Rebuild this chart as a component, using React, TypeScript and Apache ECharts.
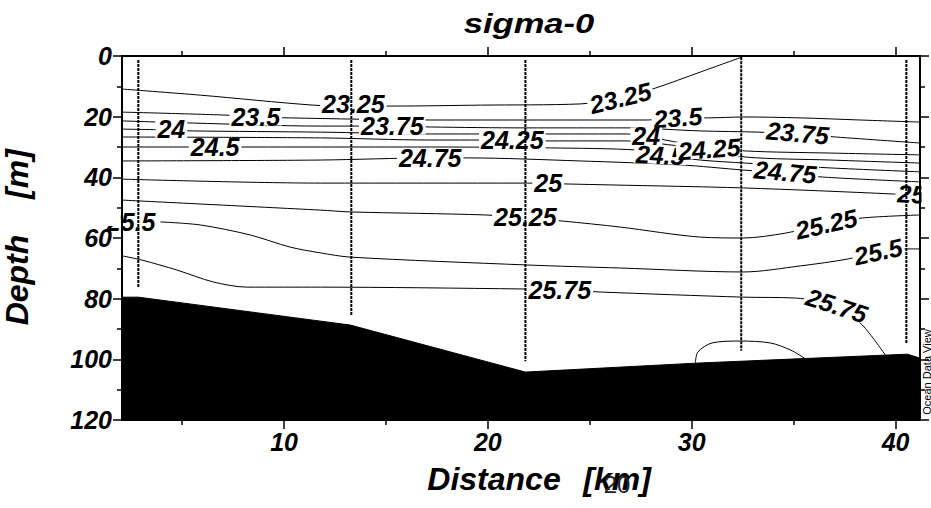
import React, { useEffect, useRef } from "react";
import * as echarts from "echarts";

const FONT = '"Liberation Sans", Arial, Helvetica, sans-serif';

const X_MIN = 2.05;
const X_MAX = 41.2;
const Y_MIN = 0;
const Y_MAX = 120;

const xMajorTicks = [10, 20, 30, 40];
const xMinorTicks = [5, 15, 25, 35];
const yMajorTicks = [0, 20, 40, 60, 80, 100, 120];
const yMinorTicks = [10, 30, 50, 70, 90, 110];

// contour lines: [distance km, depth m]
const c2325 = [[2.06, 10.9], [5.89, 12.9], [11.43, 16.2], [13.4, 16.5], [15.46, 16.5], [19.63, 16.2], [24.53, 15.8], [26.5, 13.9], [28.21, 10.6], [30.42, 5.3], [32.48, 0.3]];
const c2350 = [[2.06, 18.5], [7.2, 19.5], [8.6, 20.1], [10.2, 20.4], [17.17, 21.1], [27.82, 21.1], [29.35, 20.4], [30.77, 20.4], [32.53, 20.1], [35.33, 20.4], [38.27, 21.1], [41.22, 21.8]];
const c2375 = [[2.06, 21.4], [5.5, 22.1], [11.78, 23.1], [15.36, 23.1], [17.17, 23.4], [21.84, 23.7], [26.84, 23.7], [30.42, 24.7], [33.27, 25.1], [35.18, 25.7], [37.05, 26.7], [41.22, 28.7]];
const c2400 = [[2.06, 24.1], [4.47, 24.4], [5.5, 24.7], [11.78, 25.1], [17.17, 25.7], [21.2, 25.7], [26.84, 25.7], [27.77, 26.4], [28.7, 27.7], [30.42, 29.7], [32.63, 31.3], [36.8, 32.0], [41.22, 32.6]];
const c2425 = [[2.06, 26.7], [11.78, 27.0], [17.17, 27.7], [21.2, 27.7], [23.06, 28.0], [26.84, 28.0], [29.44, 29.7], [30.86, 30.7], [32.63, 33.3], [36.8, 34.3], [41.22, 35.3]];
const c2450 = [[2.06, 30.0], [6.62, 30.0], [11.78, 30.0], [17.17, 30.0], [23.06, 30.3], [27.33, 31.0], [28.46, 32.6], [30.42, 34.3], [32.63, 35.3], [36.8, 36.9], [41.22, 38.2]];
const c2475 = [[2.06, 34.6], [11.78, 34.3], [17.17, 33.6], [19.04, 33.6], [24.53, 34.6], [29.44, 35.9], [32.53, 37.6], [34.59, 38.6], [36.41, 39.9], [41.22, 41.5]];
const c2500 = [[2.06, 40.6], [11.78, 41.9], [21.93, 41.9], [23.94, 42.2], [26.0, 42.5], [32.53, 43.5], [39.89, 45.5], [41.22, 46.2]];
const c2525 = [[2.06, 47.5], [11.78, 50.8], [13.25, 51.4], [19.87, 52.4], [21.84, 53.4], [23.65, 54.4], [26.5, 56.4], [30.42, 59.7], [32.53, 60.0], [34.59, 58.4], [36.6, 55.4], [38.37, 53.4], [41.22, 52.4]];
const c2550 = [[3.93, 54.7], [5.89, 55.7], [8.34, 59.0], [10.3, 63.0], [11.78, 64.9], [13.25, 66.3], [21.93, 68.9], [26.5, 69.9], [32.53, 71.2], [35.33, 69.2], [37.68, 66.9], [39.15, 64.46], [40.58, 63.6], [41.22, 63.6]];
const c2575 = [[2.06, 65.9], [3.04, 67.3], [4.76, 70.6], [6.53, 74.5], [8.19, 76.2], [11.78, 76.2], [21.74, 76.8], [23.7, 77.1], [25.51, 77.8], [32.53, 79.5], [35.08, 79.8], [37.12, 82.3], [38.37, 88.7], [39.5, 98.6]];
const c2600 = [[30.18, 101.2], [30.3, 97.6], [31.0, 94.6], [32.38, 93.97], [33.86, 94.6], [34.84, 96.9], [35.53, 99.6]];

const contours = [c2325, c2350, c2375, c2400, c2425, c2450, c2475, c2500, c2525, c2550, c2575, c2600];

// contour labels
const labelText = ["23.25", "23.25", "23.5", "23.5", "23.75", "23.75", "24", "24", "24.5", "24.5", "24.25", "24.25", "24.75", "24.75", "25", "25", "25.25", "25.25", "25.5", "25.5", "25.75", "25.75"];
const labelKm = [13.4, 26.5, 8.61, 29.32, 15.31, 35.2, 4.47, 27.77, 6.62, 28.46, 21.2, 30.86, 17.17, 34.59, 22.96, 40.78, 21.84, 36.6, 2.5, 39.15, 23.53, 37.12];
const labelDepth = [15.9, 13.85, 19.95, 20.3, 22.95, 25.4, 24.07, 26.5, 30.0, 32.64, 27.7, 30.66, 33.6, 38.25, 41.9, 45.5, 53.2, 55.4, 54.73, 64.46, 77.15, 82.26];
const labelAngle = [0, 14, 0, 4, 0, -5, 0, 0, 0, -3, 0, 4, 0, -5, 0, -3, 0, 13, 0, 12, 0, -18];

// CTD stations
const stationKm = [2.85, 13.3, 21.84, 32.43, 40.53];
const stationTop = [1.3, 1.3, 1.3, 0.4, 1.3];
const stationBottom = [76.5, 85.4, 100.6, 97.2, 94.6];

// bottom topography
const bathyKm = [2.05, 2.85, 13.25, 21.84, 30.4, 40.58, 41.2];
const bathyDepth = [79.5, 79.5, 88.7, 104.2, 101.2, 98.3, 99.6];

const axisFont = {
  fontFamily: FONT,
  fontSize: 25,
  fontWeight: "bold",
  fontStyle: "italic",
  color: "#000",
};

function xAxisDef(position: string, ticks: number[], len: number, withLine: boolean, withLabels: boolean) {
  return {
    type: "value",
    min: X_MIN,
    max: X_MAX,
    position,
    z: 10,
    axisLine: { show: withLine, onZero: false, lineStyle: { color: "#000", width: 2 } },
    axisTick: { show: true, customValues: ticks, length: len, lineStyle: { color: "#000", width: 1.5 } },
    axisLabel: withLabels ? { show: true, customValues: ticks, margin: 9, ...axisFont } : { show: false },
    splitLine: { show: false },
  };
}

function yAxisDef(position: string, ticks: number[], len: number, withLine: boolean, withLabels: boolean) {
  return {
    type: "value",
    min: Y_MIN,
    max: Y_MAX,
    inverse: true,
    position,
    z: 10,
    axisLine: { show: withLine, onZero: false, lineStyle: { color: "#000", width: 2 } },
    axisTick: { show: true, customValues: ticks, length: len, lineStyle: { color: "#000", width: 1.5 } },
    axisLabel: withLabels ? { show: true, customValues: ticks, margin: 10, ...axisFont } : { show: false },
    splitLine: { show: false },
  };
}

export default function App() {
  const ref = useRef<HTMLDivElement>(null);

  useEffect(() => {
    if (!ref.current) return;
    const chart = echarts.init(ref.current, undefined, { renderer: "svg" });

    const contourSeries = contours.map((c) => ({
      type: "line",
      data: c,
      symbol: "none",
      smooth: 0.3,
      silent: true,
      z: 2,
      lineStyle: { color: "#000", width: 1 },
    }));

    const bathySeries = {
      type: "line",
      data: bathyKm.map((x, i) => [x, bathyDepth[i]]),
      symbol: "none",
      silent: true,
      z: 3,
      lineStyle: { color: "#000", width: 1 },
      areaStyle: { color: "#000", opacity: 1, origin: "end" },
    };

    const labelSeries = {
      type: "scatter",
      symbolSize: 1,
      silent: true,
      z: 4,
      itemStyle: { color: "#fff", opacity: 1 },
      label: {
        show: true,
        position: "inside",
        formatter: (p: any) => p.name,
        fontFamily: FONT,
        fontSize: 25,
        fontWeight: "bold",
        fontStyle: "italic",
        color: "#000",
        opacity: 1,
        textBorderWidth: 0,
        textBorderColor: "transparent",
        backgroundColor: "#fff",
        padding: [0, 2],
        lineHeight: 18,
      },
      data: labelText.map((t, i) => ({
        name: t,
        value: [labelKm[i], labelDepth[i]],
        label: { rotate: labelAngle[i] },
      })),
    };

    const stationSeries = stationKm.map((x, i) => ({
      type: "line",
      data: [
        [x, stationTop[i]],
        [x, stationBottom[i]],
      ],
      symbol: "none",
      silent: true,
      z: 5,
      lineStyle: { color: "#000", width: 2, type: [3, 1] },
    }));

    const option: any = {
      animation: false,
      backgroundColor: "#fff",
      grid: { left: 122, right: 11, top: 56, bottom: 88, outerBoundsMode: "none" },
      xAxis: [
        xAxisDef("bottom", xMajorTicks, 9, true, true),
        xAxisDef("bottom", xMinorTicks, 5, false, false),
        xAxisDef("top", xMajorTicks, 9, true, false),
        xAxisDef("top", xMinorTicks, 5, false, false),
      ],
      yAxis: [
        yAxisDef("left", yMajorTicks, 9, true, true),
        yAxisDef("left", yMinorTicks, 5, false, false),
        yAxisDef("right", yMajorTicks, 9, true, false),
        yAxisDef("right", yMinorTicks, 5, false, false),
      ],
      series: [...contourSeries, bathySeries, labelSeries, ...stationSeries],
      graphic: [
        {
          type: "text",
          x: 529,
          y: 24,
          scaleX: 1.28,
          z: 100,
          style: { text: "sigma-0", fontFamily: FONT, fontSize: 27, fontWeight: "bold", fontStyle: "italic", fill: "#000", align: "center", verticalAlign: "middle" },
        },
        {
          type: "text",
          x: 494,
          y: 479,
          z: 100,
          style: { text: "Distance", fontFamily: FONT, fontSize: 32, fontWeight: "bold", fontStyle: "italic", fill: "#000", align: "center", verticalAlign: "middle" },
        },
        {
          type: "text",
          x: 617,
          y: 479,
          z: 100,
          style: { text: "[km]", fontFamily: FONT, fontSize: 32, fontWeight: "bold", fontStyle: "italic", fill: "#000", align: "center", verticalAlign: "middle" },
        },
        {
          type: "text",
          x: 617,
          y: 484,
          z: 101,
          style: { text: "20", fontFamily: FONT, fontSize: 24, fontWeight: "normal", fill: "#222", align: "center", verticalAlign: "middle" },
        },
        {
          type: "text",
          x: 17,
          y: 280,
          rotation: Math.PI / 2,
          z: 100,
          style: { text: "Depth", fontFamily: FONT, fontSize: 32, fontWeight: "bold", fontStyle: "italic", fill: "#000", align: "center", verticalAlign: "middle" },
        },
        {
          type: "text",
          x: 17,
          y: 174,
          rotation: Math.PI / 2,
          z: 100,
          style: { text: "[m]", fontFamily: FONT, fontSize: 32, fontWeight: "bold", fontStyle: "italic", fill: "#000", align: "center", verticalAlign: "middle" },
        },
        {
          type: "text",
          x: 927,
          y: 372,
          rotation: Math.PI / 2,
          z: 100,
          style: { text: "Ocean Data View", fontFamily: FONT, fontSize: 11, fill: "#000", align: "center", verticalAlign: "middle" },
        },
        {
          type: "rect",
          z: 100,
          shape: { x: 94, y: 211, width: 26.5, height: 15 },
          style: { fill: "#fff" },
        },
        {
          type: "rect",
          z: 100,
          shape: { x: 921.5, y: 184, width: 10, height: 21 },
          style: { fill: "#fff" },
        },
      ],
    };

    chart.setOption(option);
    return () => chart.dispose();
  }, []);

  return (
    <div
      ref={ref}
      style={{ position: "absolute", left: 0, top: 0, width: 931, height: 508, background: "#fff" }}
    />
  );
}
